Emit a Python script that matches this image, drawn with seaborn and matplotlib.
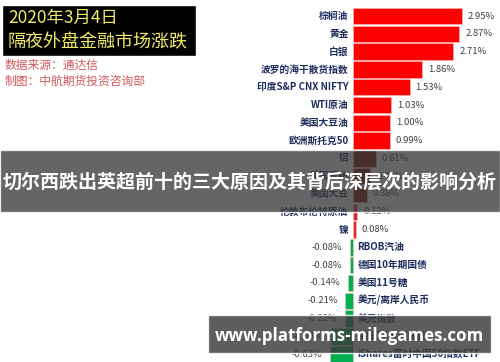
import matplotlib
matplotlib.use("Agg")
import matplotlib.pyplot as plt
import seaborn as sns
from matplotlib.patches import Rectangle

# Daten
kategorien = ["棕榈油", "黄金", "白银", "波罗的海干散货指数", "印度S&P CNX NIFTY",
              "WTI原油", "美国大豆油", "欧洲斯托克50", "铝", "美国豆粕", "美国大豆",
              "伦敦布伦特原油", "镍", "RBOB汽油", "德国10年期国债", "美国11号糖",
              "美元/离岸人民币", "美元指数", "美国10年期国债", "iShares富时中国50指数ETF"]
werte = [2.95, 2.87, 2.71, 1.86, 1.53, 1.03, 1.00, 0.99, 0.61, 0.47, 0.38,
         0.12, 0.08, -0.08, -0.08, -0.14, -0.21, -0.22, -0.60, -0.63]
farben = ["#FF0000"] * 8 + ["#7A0000"] * 3 + ["#D92B2B"] * 2 + ["#00B050"] * 7

sns.set_style("white")
plt.rcParams["font.family"] = ["Noto Sans CJK SC", "DejaVu Sans"]

fig = plt.figure(figsize=(5, 3.62), dpi=100)
ax = fig.add_axes([0, 0, 1, 1])

sns.barplot(x=werte, y=kategorien, hue=kategorien, palette=farben, legend=False,
            orient="h", width=0.92, saturation=1, edgecolor="#f6c0c0", linewidth=0.4, ax=ax)

ax.set_xlim(-353 / 37, 147 / 37)
ax.set_ylim(19.44, -0.9)
ax.axis("off")

# Beschriftungen
for i, (k, v) in enumerate(zip(kategorien, werte)):
    if v >= 0:
        ax.text(-0.12, i, k, ha="right", va="center", fontsize=7, fontweight="bold", color="#1f2d5c")
        ax.text(v + 0.16, i, f"{v:.2f}%", ha="left", va="center", fontsize=6.8, color="#404040")
    else:
        ax.text(0.12, i, k, ha="left", va="center", fontsize=7, fontweight="bold", color="#1f2d5c")
        ax.text(v - 0.2, i, f"{v:.2f}%", ha="right", va="center", fontsize=6.8, color="#404040")

# Titelkasten
fig.patches.append(Rectangle((2 / 500, 1 - 56 / 362), 194 / 500, 51 / 362,
                             transform=fig.transFigure, facecolor="black", zorder=5))
fig.text(8 / 500, 1 - 18 / 362, "2020年3月4日", fontsize=12.5, color="#F2EC6A",
         va="center", ha="left", zorder=6)
fig.text(8 / 500, 1 - 42 / 362, "隔夜外盘金融市场涨跌", fontsize=13, color="#F2EC6A",
         va="center", ha="left", zorder=6)
fig.text(5 / 500, 1 - 65 / 362, "数据来源：通达信", fontsize=8.5, color="#D05858", va="center", ha="left")
fig.text(5 / 500, 1 - 81 / 362, "制图：中航期货投资咨询部", fontsize=8.5, color="#D05858", va="center", ha="left")

# Banner
fig.patches.append(Rectangle((0, 1 - 212 / 362), 1, 62 / 362, transform=fig.transFigure,
                             facecolor="#3a3a3a", alpha=0.78, zorder=7))
fig.text(0.5, 1 - 182 / 362, "切尔西跌出英超前十的三大原因及其背后深层次的影响分析",
         fontsize=13.7, fontweight="bold", color="white", ha="center", va="center", zorder=8)

fig.patches.append(Rectangle((208 / 500, 1 - 353 / 362), 283 / 500, 38 / 362, transform=fig.transFigure,
                             facecolor="#3a3a3a", alpha=0.82, zorder=7))
fig.text(349 / 500, 1 - 336 / 362, "www.platforms-milegames.com", fontsize=12.2, fontweight="bold",
         color="white", ha="center", va="center", zorder=8, family="Open Sans")

fig.savefig("out.png", dpi=100)
